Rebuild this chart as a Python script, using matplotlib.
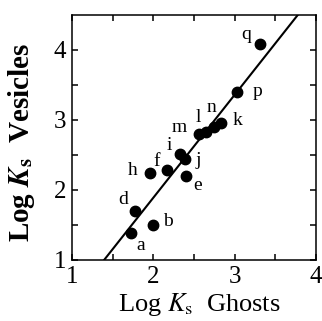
import matplotlib
matplotlib.use("Agg")
import matplotlib.pyplot as plt
import numpy as np

labels = ["a", "b", "d", "h", "f", "e", "i", "j", "m", "l", "n", "k", "p", "q"]
log_ks_ghosts = [1.72, 2.00, 1.77, 1.96, 2.17, 2.40, 2.33, 2.39, 2.56, 2.65, 2.74, 2.83, 3.03, 3.31]
log_ks_vesicles = [1.38, 1.50, 1.70, 2.24, 2.28, 2.20, 2.52, 2.45, 2.80, 2.83, 2.90, 2.96, 3.40, 4.09]
fit_slope = 1.47
fit_intercept = -1.05

# label offsets in pixels (layout only)
label_offsets = [(10, -12), (15, 3), (-11, 11), (-17, 3), (-10, 9), (12, -9), (-11, 8),
                 (13, -2), (-20, 7), (-8, 14), (-2, 20), (17, 2), (20, 0), (-14, 9)]

plt.rcParams['font.family'] = ['Liberation Serif', 'DejaVu Serif']
plt.rcParams['mathtext.fontset'] = 'stix'

fig = plt.figure(figsize=(3.22, 3.21), dpi=100)
ax = fig.add_axes([72/322, 1-260/321, (316-72)/322, (260-15)/321])

xl = np.array([1.0, 4.0])
ax.plot(xl, fit_slope*xl + fit_intercept, color='black', lw=1.5)
ax.plot(log_ks_ghosts, log_ks_vesicles, 'o', color='black', ms=7.5, zorder=3)

for lab, x, y, off in zip(labels, log_ks_ghosts, log_ks_vesicles, label_offsets):
    ax.annotate(lab, (x, y), xytext=off, textcoords='offset pixels',
                ha='center', va='center', fontsize=14)

ax.set_xlim(1, 4)
ax.set_ylim(1, 4.5)
ax.set_xticks([1, 2, 3, 4])
ax.set_yticks([1, 2, 3, 4])
ax.set_xticks([1.5, 2.5, 3.5], minor=True)
ax.set_yticks([1.5, 2.5, 3.5], minor=True)
ax.tick_params(which='both', direction='in', top=True, right=True, length=4, width=1.1,
               labelsize=18, pad=4)
for s in ax.spines.values():
    s.set_linewidth(1.1)

ax.set_xlabel(r'Log $K_{\mathrm{s}}$  Ghosts', fontsize=19)
ax.xaxis.set_label_coords(0.52, -0.128)
ax.set_ylabel(r'Log $\boldsymbol{K}_{\mathbf{s}}$  Vesicles', fontsize=21, fontweight='bold')
ax.yaxis.set_label_coords(-0.145, 0.48)

fig.savefig('out.png', dpi=100)
